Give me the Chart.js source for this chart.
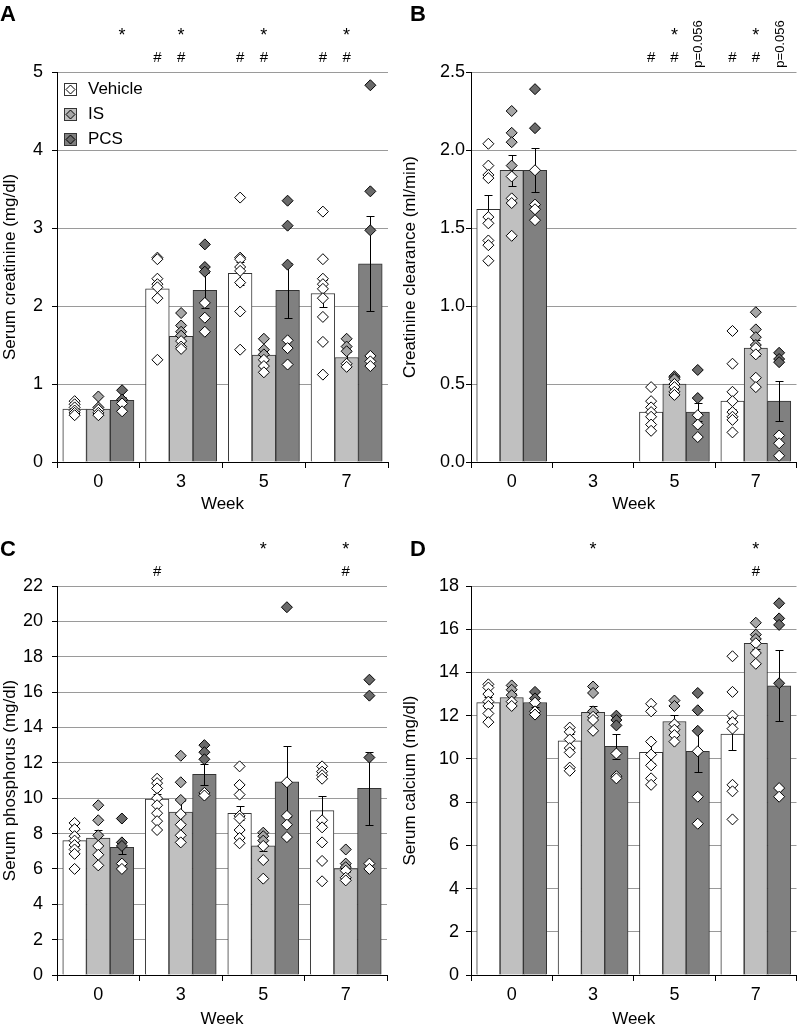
<!DOCTYPE html>
<html>
<head>
<meta charset="utf-8">
<script src="https://cdn.jsdelivr.net/npm/chart.js@4.4.0/dist/chart.umd.min.js"></script>
<style>
  body { margin: 0; background: #fff; width: 803px; height: 1030px; position: relative; overflow: hidden; }
  canvas { position: absolute; }
</style>
</head>
<body>
<canvas id="chartA" width="400" height="515" style="left:0;top:0"></canvas>
<canvas id="chartB" width="403" height="515" style="left:400px;top:0"></canvas>
<canvas id="chartC" width="400" height="515" style="left:0;top:515px"></canvas>
<canvas id="chartD" width="403" height="515" style="left:400px;top:515px"></canvas>
<script>
// Shared categories
const weeks = ['0', '3', '5', '7'];
const groups = ['Vehicle', 'IS', 'PCS'];

// A - serum creatinine (mg/dl): means, SEM, individual animals [group][week][]
const creatMeans = [[0.68, 2.22, 2.42, 2.16], [0.68, 1.61, 1.37, 1.34], [0.79, 2.20, 2.20, 2.54]];
const creatErrs = [[0.03, 0.12, 0.15, 0.17], [0.03, 0.06, 0.08, 0.07], [0.04, 0.22, 0.35, 0.61]];
const creatPoints = [
    [[0.78, 0.74, 0.70, 0.66, 0.63, 0.60], [2.62, 2.60, 2.35, 2.28, 2.24, 2.10, 1.31], [3.39, 2.62, 2.60, 2.50, 2.45, 2.30, 1.93, 1.44], [3.21, 2.60, 2.35, 2.28, 2.22, 2.10, 1.86, 1.54, 1.12]],
    [[0.84, 0.70, 0.67, 0.63, 0.60], [1.91, 1.75, 1.67, 1.62, 1.55, 1.48, 1.45], [1.58, 1.44, 1.38, 1.31, 1.23, 1.15], [1.58, 1.48, 1.42, 1.26, 1.22]],
    [[0.92, 0.80, 0.75, 0.65], [2.79, 2.50, 2.44, 2.04, 1.85, 1.67], [3.35, 3.03, 2.53, 1.56, 1.46, 1.25], [4.83, 3.47, 2.97, 1.36, 1.29, 1.23]]
];

// B - creatinine clearance (ml/min), no data at week 3
const clearMeans = [[1.62, null, 0.32, 0.39], [1.87, null, 0.50, 0.73], [1.87, null, 0.32, 0.39]];
const clearErrs = [[0.09, null, 0.03, 0.05], [0.10, null, 0.03, 0.05], [0.14, null, 0.06, 0.13]];
const clearPoints = [
    [[2.04, 1.90, 1.84, 1.82, 1.57, 1.53, 1.42, 1.39, 1.29], [], [0.48, 0.39, 0.35, 0.32, 0.29, 0.24, 0.20], [0.84, 0.63, 0.45, 0.39, 0.32, 0.29, 0.27, 0.19]],
    [[2.25, 2.11, 2.05, 1.90, 1.83, 1.69, 1.66, 1.45], [], [0.55, 0.54, 0.53, 0.50, 0.48, 0.45, 0.43], [0.96, 0.85, 0.80, 0.75, 0.73, 0.69, 0.54, 0.48]],
    [[2.39, 2.14, 1.87, 1.65, 1.62, 1.55], [], [0.59, 0.41, 0.30, 0.24, 0.16], [0.70, 0.66, 0.64, 0.17, 0.12, 0.04]]
];

// C - serum phosphorus (mg/dl)
const phosMeans = [[7.60, 9.95, 9.15, 9.30], [7.75, 9.22, 7.30, 6.02], [7.22, 11.35, 10.93, 10.56]];
const phosErrs = [[0.30, 0.30, 0.40, 0.80], [0.45, 0.60, 0.30, 0.20], [0.35, 0.60, 2.00, 2.05]];
const phosPoints = [
    [[8.60, 8.25, 7.85, 7.60, 7.35, 7.10, 6.85, 6.00], [11.10, 10.85, 10.55, 10.00, 9.60, 9.15, 8.70, 8.20], [11.80, 10.75, 10.20, 9.00, 8.85, 8.20, 7.75, 7.45], [11.80, 11.50, 11.30, 11.10, 8.75, 8.35, 7.50, 6.45, 5.30]],
    [[9.60, 8.75, 7.90, 7.30, 6.80, 6.20], [12.40, 10.90, 9.90, 9.10, 8.50, 7.90, 7.50], [8.05, 7.85, 7.60, 7.30, 6.50, 5.45], [7.10, 6.30, 6.10, 5.90, 5.50, 5.35]],
    [[8.85, 7.50, 7.30, 6.30, 6.00], [13.00, 12.60, 12.20, 10.30, 10.15], [20.80, 10.90, 9.00, 8.50, 7.80], [16.70, 15.80, 12.30, 6.30, 6.00]]
];

// D - serum calcium (mg/dl)
const calcMeans = [[12.60, 10.84, 10.30, 11.15], [12.84, 12.16, 11.73, 15.35], [12.61, 10.58, 10.35, 13.38]];
const calcErrs = [[0.25, 0.30, 0.50, 0.75], [0.20, 0.30, 0.30, 0.25], [0.20, 0.58, 0.97, 1.64]];
const calcPoints = [
    [[13.45, 13.30, 13.00, 12.65, 12.45, 12.10, 11.70], [11.45, 11.25, 10.90, 10.50, 10.30, 9.60, 9.45], [12.55, 12.20, 10.80, 10.20, 9.70, 9.10, 8.80], [14.75, 13.10, 12.00, 11.70, 11.40, 8.80, 8.50, 7.20]],
    [[13.40, 13.20, 12.95, 12.65, 12.45], [13.35, 13.05, 12.20, 11.95, 11.80, 11.30], [12.70, 12.45, 11.60, 11.35, 11.10, 10.80], [16.30, 15.75, 15.55, 15.35, 14.90, 14.40]],
    [[13.10, 12.80, 12.60, 12.20, 12.05], [12.00, 11.80, 11.55, 10.25, 9.20, 9.10], [13.05, 12.25, 11.30, 10.35, 8.25, 7.00], [17.20, 16.50, 16.20, 13.50, 8.65, 8.25]]
];

// Significance marks: [text, week index, group index, row]  (row 1 = upper, 2 = lower, 'p' = rotated note)
const marksA = [['*', 0, 2, 1], ['*', 1, 1, 1], ['*', 2, 1, 1], ['*', 3, 1, 1],
                ['#', 1, 0, 2], ['#', 1, 1, 2], ['#', 2, 0, 2], ['#', 2, 1, 2], ['#', 3, 0, 2], ['#', 3, 1, 2]];
const marksB = [['*', 2, 1, 1], ['*', 3, 1, 1], ['#', 2, 0, 2], ['#', 2, 1, 2], ['#', 3, 0, 2], ['#', 3, 1, 2],
                ['p=0.056', 2, 2, 'p'], ['p=0.056', 3, 2, 'p']];
const marksC = [['*', 2, 1, 1], ['*', 3, 1, 1], ['#', 1, 0, 2], ['#', 3, 1, 2]];
const marksD = [['*', 1, 1, 1], ['*', 3, 1, 1], ['#', 3, 1, 2]];

// Colours
const barColors = ['#ffffff', '#c0c0c0', '#808080'];
const markerColors = ['#ffffff', '#a6a6a6', '#6a6a6a'];

// share of a week slot taken by the three bars
const groupWidth = 0.86;
const barStep = groupWidth / 3;
const slotX = (w, s) => w + (s - 1) * barStep;

Chart.defaults.font.family = "'Liberation Sans', Arial, sans-serif";
Chart.defaults.color = '#000';

// Error bars drawn right after each bar dataset
const errorBarPlugin = {
    id: 'errorBars',
    afterDatasetDraw(chart, args) {
        const ds = chart.data.datasets[args.index];
        if (!ds.errors) return;
        const yScale = chart.scales.y;
        const ctx = chart.ctx;
        ctx.save();
        ctx.strokeStyle = '#000';
        ctx.lineWidth = 1;
        args.meta.data.forEach((bar, i) => {
            const m = ds.data[i].y, e = ds.errors[i];
            if (m == null || e == null) return;
            const x = Math.round(bar.x) + 0.5;
            const top = Math.round(yScale.getPixelForValue(m + e)) + 0.5;
            const bot = Math.round(yScale.getPixelForValue(m - e)) + 0.5;
            ctx.beginPath();
            ctx.moveTo(x, top); ctx.lineTo(x, bot);
            ctx.moveTo(x - 4, top); ctx.lineTo(x + 4, top);
            ctx.moveTo(x - 4, bot); ctx.lineTo(x + 4, bot);
            ctx.stroke();
        });
        ctx.restore();
    }
};

// Panel letter, significance marks and (panel A) legend
const decorPlugin = {
    id: 'decor',
    afterDraw(chart, args, opts) {
        const ctx = chart.ctx;
        const area = chart.chartArea;
        const xScale = chart.scales.x;
        ctx.save();
        ctx.fillStyle = '#000';
        ctx.font = "bold 22px 'Liberation Sans', Arial, sans-serif";
        ctx.textAlign = 'left';
        ctx.textBaseline = 'middle';
        ctx.fillText(opts.letter, opts.letterX, opts.letterY);

        (opts.marks || []).forEach(([text, w, g, row]) => {
            const x = xScale.getPixelForValue(slotX(w, g));
            if (row === 'p') {
                ctx.save();
                ctx.translate(x + 1, area.top - 28);
                ctx.rotate(-Math.PI / 2);
                ctx.font = "13px 'Liberation Sans', Arial, sans-serif";
                ctx.textAlign = 'center';
                ctx.textBaseline = 'middle';
                ctx.fillText(text, 0, 0);
                ctx.restore();
            } else {
                ctx.font = row === 1 ? "18px 'Liberation Sans', Arial, sans-serif" : "15px 'Liberation Sans', Arial, sans-serif";
                ctx.textAlign = 'center';
                ctx.textBaseline = 'middle';
                ctx.fillText(text, x, area.top + (row === 1 ? -36 : -14));
            }
        });

        if (opts.legend) {
            ctx.font = "17px 'Liberation Sans', Arial, sans-serif";
            ctx.textAlign = 'left';
            groups.forEach((name, s) => {
                const bx = area.left + 7.5, by = area.top + 11.5 + s * 25;
                ctx.fillStyle = barColors[s];
                ctx.fillRect(bx, by, 12, 12);
                ctx.strokeStyle = '#333';
                ctx.lineWidth = 1;
                ctx.strokeRect(bx, by, 12, 12);
                ctx.beginPath();
                ctx.moveTo(bx + 6, by + 1.5); ctx.lineTo(bx + 10.5, by + 6);
                ctx.lineTo(bx + 6, by + 10.5); ctx.lineTo(bx + 1.5, by + 6);
                ctx.closePath();
                ctx.fillStyle = markerColors[s];
                ctx.fill();
                ctx.strokeStyle = '#000';
                ctx.stroke();
                ctx.fillStyle = '#000';
                ctx.fillText(name, area.left + 31, by + 6);
            });
        }
        ctx.restore();
    }
};

function makePanel(id, cfg) {
    const datasets = [];
    // bar datasets first (index = group)
    groups.forEach((name, s) => {
        datasets.push({
            type: 'bar',
            label: name,
            data: cfg.means[s].map((m, w) => ({ x: slotX(w, s), y: m })),
            errors: cfg.errs[s],
            backgroundColor: barColors[s],
            borderColor: '#333',
            borderWidth: 1,
            grouped: false,
            categoryPercentage: 1.0,
            barPercentage: 1.0,
            order: 2
        });
    });
    // individual animals as diamonds over the bars
    groups.forEach((name, s) => {
        const pts = [], fills = [];
        cfg.points[s].forEach((vals, w) => {
            vals.forEach(v => {
                pts.push({ x: slotX(w, s), y: v });
                fills.push(v > cfg.means[s][w] ? markerColors[s] : '#ffffff');
            });
        });
        datasets.push({
            type: 'scatter',
            label: name + ' animals',
            data: pts,
            pointStyle: 'rectRot',
            pointRadius: 5.5,
            pointBackgroundColor: fills,
            pointBorderColor: '#000',
            pointBorderWidth: 1,
            order: 0
        });
    });

    new Chart(document.getElementById(id), {
        type: 'bar',
        data: { datasets: datasets },
        options: {
            responsive: false,
            animation: false,
            layout: { padding: { top: cfg.top, right: cfg.right, left: 0, bottom: 0 } },
            plugins: {
                legend: { display: false },
                tooltip: { enabled: false },
                decor: cfg.decor
            },
            scales: {
                x: {
                    type: 'linear',
                    min: -0.5, max: 3.5,
                    offset: false,
                    afterBuildTicks: s => { s.ticks = weeks.map((_, i) => ({ value: i })); },
                    grid: { display: true, drawOnChartArea: false, offset: true, color: '#000', tickLength: 6 },
                    border: { color: '#000', width: 1 },
                    ticks: { font: { size: 18 }, padding: 3, maxRotation: 0, autoSkip: false, callback: v => weeks[v] },
                    title: { display: true, text: 'Week', font: { size: 17 }, padding: 0 },
                    afterFit: s => { s.height = cfg.xHeight; }
                },
                y: {
                    min: 0, max: cfg.max,
                    ticks: { stepSize: cfg.step, font: { size: 18 }, padding: cfg.tickPad, callback: cfg.fmt },
                    grid: { color: '#9a9a9a', tickColor: '#000', tickLength: 5 },
                    border: { color: '#000', width: 1 },
                    title: { display: true, text: cfg.yTitle, font: { size: 17 }, padding: 0 },
                    afterFit: s => { s.width = cfg.yWidth; }
                }
            }
        },
        plugins: [errorBarPlugin, decorPlugin]
    });
}

makePanel('chartA', {
    means: creatMeans, errs: creatErrs, points: creatPoints,
    max: 5, step: 1, fmt: v => v.toFixed(0), yTitle: 'Serum creatinine (mg/dl)',
    top: 72, right: 12, yWidth: 57, xHeight: 53, tickPad: 9,
    decor: { letter: 'A', letterX: 0, letterY: 15, marks: marksA, legend: true }
});
makePanel('chartB', {
    means: clearMeans, errs: clearErrs, points: clearPoints,
    max: 2.5, step: 0.5, fmt: v => v.toFixed(1), yTitle: 'Creatinine clearance (ml/min)',
    top: 72, right: 1, yWidth: 71, xHeight: 53, tickPad: 1,
    decor: { letter: 'B', letterX: 10, letterY: 15, marks: marksB }
});
makePanel('chartC', {
    means: phosMeans, errs: phosErrs, points: phosPoints,
    max: 22, step: 2, fmt: v => v.toFixed(0), yTitle: 'Serum phosphorus (mg/dl)',
    top: 71, right: 13, yWidth: 57, xHeight: 55, tickPad: 9,
    decor: { letter: 'C', letterX: 0, letterY: 35, marks: marksC }
});
makePanel('chartD', {
    means: calcMeans, errs: calcErrs, points: calcPoints,
    max: 18, step: 2, fmt: v => v.toFixed(0), yTitle: 'Serum calcium (mg/dl)',
    top: 71, right: 1, yWidth: 71, xHeight: 55, tickPad: 7,
    decor: { letter: 'D', letterX: 10, letterY: 35, marks: marksD }
});
</script>
</body>
</html>
